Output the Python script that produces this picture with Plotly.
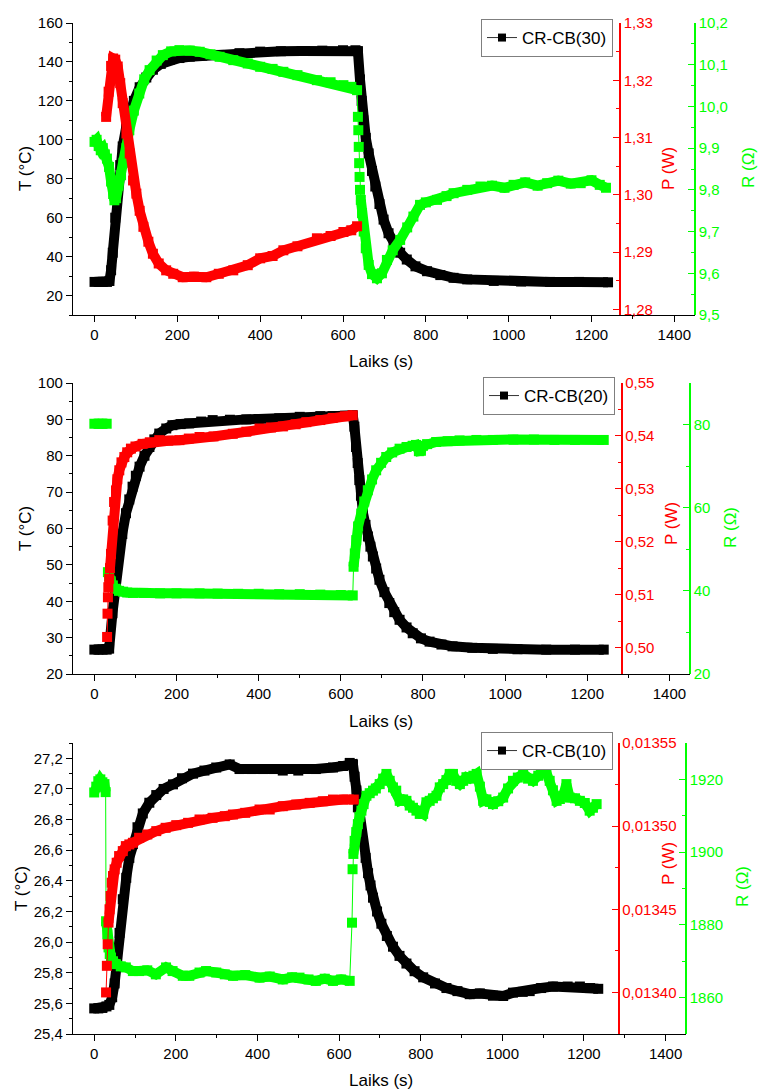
import plotly.graph_objects as go

# ---------------- Panel 1 : CR-CB(30) ----------------
t1_T = [0, 10, 20, 30, 36, 40, 44, 50, 56, 62, 68, 76, 85, 95, 109, 125, 141, 160, 181, 205,
        230, 260, 300, 350, 400, 450, 500, 550, 600, 630, 636, 641, 645, 649, 655, 662, 670, 678, 688, 698,
        710, 722, 738, 754, 775, 803, 835, 867, 900, 964, 1030, 1100, 1170, 1240]
T1 = [27, 27, 27, 27, 27.5, 33, 42, 60, 76, 87, 96.6, 106, 113.7, 120, 127, 132, 136, 139, 141, 142,
      142.7, 143.2, 143.6, 144.5, 145.3, 145.5, 145.6, 145.8, 146, 146, 145.5, 131, 120, 110, 101, 93, 84, 76, 67, 59,
      52, 47, 42, 38.5, 35, 32.5, 30.5, 29.1, 28.3, 27.5, 27.2, 27, 27, 26.8]

t1_P = [28, 34, 40, 45, 50, 56, 62, 68, 77, 85, 93, 101, 109, 118, 130, 141, 155, 173, 190, 213,
        240, 270, 300, 335, 370, 400, 430, 456, 490, 537, 570, 601, 620, 634]
P1 = [1.3136, 1.3180, 1.3225, 1.3238, 1.3236, 1.3224, 1.3195, 1.3160, 1.3107, 1.3072,
      1.3025, 1.3002, 1.2972, 1.2944, 1.2918, 1.2897, 1.2880, 1.2868, 1.2862, 1.2856,
      1.2857, 1.2856, 1.2862, 1.2868, 1.2877, 1.2889, 1.2893, 1.2903, 1.2910, 1.2924,
      1.2928, 1.2935, 1.2938, 1.2945]

t1_R = [0, 5, 10, 15, 20, 25, 30, 35, 40, 45, 48, 52, 58, 64, 70, 77, 84, 95, 108, 120,
        133, 150, 165, 185, 205, 230, 254, 280, 302, 335, 370, 400, 430, 456, 490, 537, 570, 601, 620, 634,
        636, 637, 638, 639, 640, 641, 643, 646, 650, 655, 662, 670, 682, 694, 706, 720, 738, 755, 770, 786,
        800, 827, 850, 867, 900, 932, 960, 990, 1012, 1040, 1070, 1093, 1120, 1150, 1174, 1200, 1220, 1235]
R1 = [9.915, 9.92, 9.905, 9.895, 9.90, 9.885, 9.875, 9.855, 9.82, 9.79,
      9.775, 9.78, 9.81, 9.835, 9.865, 9.90, 9.943, 9.99, 10.031, 10.065,
      10.087, 10.110, 10.123, 10.132, 10.135, 10.134, 10.131, 10.125, 10.119, 10.111,
      10.103, 10.095, 10.090, 10.083, 10.075, 10.063, 10.058, 10.051, 10.047, 10.039,
      9.975, 9.943, 9.903, 9.864, 9.831, 9.80, 9.776, 9.744, 9.70, 9.66,
      9.62, 9.598, 9.588, 9.60, 9.632, 9.655, 9.680, 9.71, 9.736, 9.764,
      9.77, 9.776, 9.785, 9.792, 9.80, 9.808, 9.81, 9.805, 9.812, 9.818,
      9.81, 9.816, 9.822, 9.815, 9.816, 9.823, 9.812, 9.805]

# ---------------- Panel 2 : CR-CB(20) ----------------
t2_T = [0, 10, 20, 30, 36, 44, 52, 60, 68, 77, 85, 93, 101, 110, 122, 134, 146, 158, 175, 190,
        210, 231, 260, 288, 330, 370, 400, 450, 500, 550, 580, 610, 629, 633, 637, 641, 645, 649, 654, 660,
        666, 672, 678, 686, 694, 706, 718, 730, 743, 760, 775, 795, 816, 845, 872, 920, 970, 1030, 1100, 1170,
        1240]
T2 = [26.7, 26.7, 26.7, 26.7, 27, 36.7, 45.9, 53, 58.5, 64.2, 68, 71.5, 74.5, 77, 80, 82.4, 84.5, 86.1, 87.5, 88.4,
      88.7, 88.9, 89.4, 89.8, 89.9, 90, 90.1, 90.3, 90.7, 90.9, 90.9, 91, 91.1, 88, 82.4, 78, 73.3, 69, 64.2, 61,
      57.8, 55, 52.3, 49, 45.9, 42.5, 39.5, 37, 34.9, 32.8, 31.2, 29.8, 28.9, 28.1, 27.6, 27.2, 26.9, 26.8, 26.7, 26.7,
      26.7]

t2_P = [31, 32, 33, 34, 36, 38, 40.5, 44.5, 48, 52.6, 56, 60.7, 66, 73, 80, 89, 100, 117.5, 135, 158,
        180, 207, 230, 256, 290, 337, 370, 402, 430, 459, 490, 516, 550, 580, 610, 629]
P2 = [0.5020, 0.5064, 0.5095, 0.5114, 0.5130, 0.5150, 0.5177, 0.5240, 0.5275, 0.5297,
      0.5318, 0.5335, 0.5350, 0.5360, 0.5369, 0.5376, 0.5380, 0.5385, 0.5388, 0.5392,
      0.5391, 0.5392, 0.5395, 0.5398, 0.5399, 0.5404, 0.5408, 0.5414, 0.5416, 0.5418,
      0.5422, 0.5426, 0.5430, 0.5434, 0.5437, 0.5439]

t2_R = [0, 10, 20, 30, 33, 36, 40, 45, 52, 60, 70, 80, 94, 120, 160, 200, 256, 300, 350, 400,
        450, 500, 550, 600, 629, 631, 634, 637.5, 642, 649.6, 657, 665.7, 676, 686, 698, 710.5, 725, 743, 760, 775,
        783, 790, 795, 800, 810, 832, 860, 889, 930, 970, 1020, 1070, 1120, 1170, 1240]
R2 = [80.2, 80.2, 80.2, 80.2, 44.5, 43.5, 42.3, 41.3, 40.5, 40.0,
      39.8, 39.6, 39.5, 39.5, 39.4, 39.4, 39.4, 39.35, 39.3, 39.3,
      39.2, 39.2, 39.1, 39.0, 38.9, 45.8, 49, 52.2, 55.5, 58.6,
      61.5, 64.2, 66.8, 69.0, 70.8, 72.2, 73.3, 74.2, 74.6, 74.9,
      75.1, 73.6, 73.7, 74.9, 75.3, 75.8, 76.0, 76.2, 76.3, 76.3,
      76.4, 76.4, 76.3, 76.3, 76.3]

# ---------------- Panel 3 : CR-CB(10) ----------------
t3_T = [0, 10, 20, 30, 37, 44, 50, 56, 62, 70, 78.5, 86, 94.7, 106, 119, 135, 152, 170, 193, 215,
        242, 270, 299, 332, 356, 385, 414, 440, 462, 500, 543, 585, 610, 626, 634, 638, 642.5, 646, 650.5, 658.6,
        665, 671, 677, 683, 693, 703.6, 717, 732, 748, 765, 785, 806, 835, 863, 890, 920, 945, 977, 1002, 1026,
        1050, 1067, 1095, 1124, 1160, 1190, 1215, 1235]
T3 = [25.567, 25.567, 25.57, 25.58, 25.59, 25.64, 25.73, 25.90, 26.06, 26.28,
      26.42, 26.55, 26.64, 26.75, 26.84, 26.91, 26.96, 27.00, 27.03, 27.07,
      27.10, 27.12, 27.14, 27.16, 27.13, 27.13, 27.13, 27.13, 27.12, 27.12,
      27.13, 27.14, 27.15, 27.17, 27.16, 27.08, 26.99, 26.88, 26.77, 26.66,
      26.55, 26.45, 26.37, 26.29, 26.20, 26.12, 26.04, 25.97, 25.91, 25.86,
      25.81, 25.77, 25.73, 25.70, 25.68, 25.66, 25.665, 25.65, 25.648, 25.67,
      25.675, 25.68, 25.70, 25.71, 25.71, 25.71, 25.70, 25.695]

t3_P = [29, 31, 33, 35, 37.5, 40, 43, 46, 50, 55, 61, 70, 77.5, 86, 94.7, 110, 130, 152, 175, 201,
        230, 258, 290, 320, 340, 370, 405, 430, 462, 495, 528, 560, 585, 610, 636]
P3 = [0.013400, 0.013416, 0.013429, 0.013442, 0.013450, 0.013458, 0.013466, 0.013470, 0.013474, 0.013478,
      0.013482, 0.013485, 0.013488, 0.013489, 0.013490, 0.013493, 0.013495, 0.013497, 0.013499, 0.0135006,
      0.013502, 0.013504, 0.013505, 0.013506, 0.013507, 0.013508, 0.013510, 0.013510, 0.013512, 0.013513,
      0.013514, 0.013515, 0.013516, 0.013516, 0.013516]

t3_R = [0, 5, 10, 15, 20, 25, 28, 29, 32, 35, 38, 41, 46, 53, 65, 77.5, 94.7, 110, 130, 151,
        176, 192, 217, 233, 258, 274, 299, 320, 340, 370, 405, 430, 462, 485, 503, 525, 543, 565, 585, 605,
        626, 631.6, 633, 635, 638, 642, 646, 650, 654.7, 660, 667, 675, 683, 690, 699.5, 708, 716, 724, 732, 740,
        748.6, 757, 765, 773, 781, 789.5, 797.6, 806, 814, 822, 830, 838.6, 846.7, 855, 863, 871, 879, 887, 896, 904,
        912, 920, 929, 937, 945, 953, 961, 969, 977, 990, 1002, 1014, 1026, 1038, 1051, 1063, 1075, 1088, 1100, 1108,
        1116, 1124, 1133, 1141, 1149, 1157, 1165, 1178, 1190, 1202, 1214, 1222, 1231]
R3 = [1916.4, 1918, 1919.5, 1920, 1919.2, 1918.7, 1916.5, 1881, 1877.4, 1873.8,
      1872, 1871, 1870, 1869.2, 1868.6, 1868.3, 1867.3, 1867.3, 1867.5, 1866.4,
      1868.3, 1867.3, 1866, 1866, 1866.9, 1867.3, 1866.9, 1866.4, 1866, 1866.2,
      1865.5, 1865.8, 1865, 1865.6, 1865.5, 1865, 1864.6, 1865.2, 1864.6, 1865,
      1864.6, 1880.6, 1895.3, 1899.5, 1903.1, 1905.5, 1907.7, 1909.7, 1911.4, 1913.2,
      1915.5, 1916.2, 1916.9, 1917.5, 1918.7, 1920.2, 1921.5, 1919.6, 1917.8, 1916.9,
      1914.1, 1914.5, 1914.1, 1912.8, 1912.2, 1911.4, 1910.5, 1910.5, 1913.7, 1914.1,
      1914.8, 1915.5, 1917.8, 1918.7, 1919.8, 1921.5, 1921.5, 1919.6, 1918.7, 1919.6,
      1920.6, 1920.2, 1921, 1921.5, 1918, 1914.1, 1914.5, 1913.8, 1913.2, 1914,
      1915, 1917.5, 1919.6, 1920.5, 1921.5, 1920.2, 1919.6, 1921, 1922.9, 1921.8,
      1919.6, 1917, 1914.1, 1914.6, 1915.5, 1918.7, 1915, 1914.8, 1914.1, 1913.5,
      1911.4, 1912.2, 1913.2]

legend_names = ["CR-CB(30)", "CR-CB(20)", "CR-CB(10)"]
x_title = "Laiks (s)"
T_title = "T (°C)"
P_title = "P (W)"
R_title = "R (Ω)"

# ---------------- styling / layout ----------------
W, H = 759, 1089
FONT = "Liberation Sans, Arial, sans-serif"
BLACK, RED, GREEN = "#000000", "#ff0000", "#00ff00"
LW, MS = 10, 10


def fx(p):
    return p / W


def fy(p):
    return 1 - p / H


panels = [
    dict(tT=t1_T, T=T1, tP=t1_P, P=P1, tR=t1_R, R=R1,
         winP=[], winR=[(634, 643)], hideR=[],
         top=23, bot=315, left=73, right=695, red=620,
         Tr=[10, 160], Td=20, Tm=10, Tf="",
         Pr=[1.279, 1.33], Pd=0.01, Pm=0.005, Pf=".2f",
         Rr=[9.5, 10.2], Rd=0.1, Rm=0.05, Rf=".1f",
         Tt=(25, 169), Xt=(381, 361), Pt=(668, 169), Rt=(748, 168), leg=(613, 19)),
    dict(tT=t2_T, T=T2, tP=t2_P, P=P2, tR=t2_R, R=R2,
         winP=[(31, 38)], winR=[(30, 33), (629, 631)], hideR=[(30, 33)],
         top=383, bot=674, left=73, right=690, red=621.5,
         Tr=[20, 100], Td=10, Tm=5, Tf="",
         Pr=[0.495, 0.55], Pd=0.01, Pm=0.005, Pf=".2f",
         Rr=[20, 90], Rd=20, Rm=10, Rf="",
         Tt=(25, 529), Xt=(381, 721), Pt=(671, 524), Rt=(730, 528), leg=(615, 377)),
    dict(tT=t3_T, T=T3, tP=t3_P, P=P3, tR=t3_R, R=R3,
         winP=[(29, 35)], winR=[(28, 29), (626, 636)], hideR=[],
         top=743, bot=1034, left=73, right=686, red=618.5,
         Tr=[25.4, 27.3], Td=0.2, Tm=0.1, Tf=".1f",
         Pr=[0.013375, 0.01355], Pd=0.00005, Pm=0.000025, Pf=".5f",
         Rr=[1850, 1930], Rd=20, Rm=10, Rf="",
         Tt=(21, 889), Xt=(381, 1080), Pt=(668, 864), Rt=(742, 887), leg=(613, 732)),
]

fig = go.Figure()


def split(t, y, windows):
    xs, ys = [], []
    for i in range(len(t)):
        if i > 0 and any(a <= t[i - 1] and t[i] <= b for a, b in windows):
            xs.append(None)
            ys.append(None)
        xs.append(t[i])
        ys.append(y[i])
    return xs, ys


def add_series(t, y, xa, ya, color, windows, hidden):
    assert len(t) == len(y)
    # thin connecting line (line+symbol plot of the original)
    tx, ty = split(t, y, hidden)
    fig.add_trace(go.Scatter(x=tx, y=ty, xaxis=xa, yaxis=ya, mode="lines",
                             line=dict(color=color, width=1), showlegend=False, hoverinfo="skip"))
    xs, ys = split(t, y, windows)
    fig.add_trace(go.Scatter(x=xs, y=ys, xaxis=xa, yaxis=ya, mode="lines+markers",
                             line=dict(color=color, width=LW),
                             marker=dict(symbol="square", size=MS, color=color),
                             showlegend=False))


layout = {}
annotations = []

for k, p in enumerate(panels):
    xi = "" if k == 0 else str(k + 1)
    yT, yR, yP = 3 * k + 1, 3 * k + 2, 3 * k + 3
    yTn = "" if yT == 1 else str(yT)
    xa = "x" + xi
    add_series(p["tT"], p["T"], xa, "y" + yTn, BLACK, [], [])
    add_series(p["tR"], p["R"], xa, "y" + str(yR), GREEN, p["winR"], p["hideR"])
    add_series(p["tP"], p["P"], xa, "y" + str(yP), RED, p["winP"], [])

    legname = "legend" if k == 0 else "legend" + str(k + 1)
    fig.add_trace(go.Scatter(x=[None], y=[None], xaxis=xa, yaxis="y" + yTn,
                             mode="lines+markers", name=legend_names[k],
                             line=dict(color="#333333", width=1),
                             marker=dict(symbol="square", size=8, color=BLACK),
                             legend=legname, showlegend=True))
    layout[legname] = dict(x=fx(p["leg"][0]), y=fy(p["leg"][1]), xanchor="right", yanchor="top",
                           bgcolor="white", bordercolor="#7f7f7f", borderwidth=1,
                           font=dict(family=FONT, size=17, color=BLACK))

    ydom = [fy(p["bot"]), fy(p["top"])]
    layout["xaxis" + xi] = dict(
        domain=[fx(p["left"]), fx(p["right"])], range=[-52, 1450], anchor="y" + yTn,
        showline=True, linecolor=BLACK, linewidth=1.3, showgrid=False, zeroline=False,
        ticks="outside", ticklen=6, tickwidth=1.3, tickcolor=BLACK, dtick=200, tick0=0,
        minor=dict(dtick=100, tick0=0, ticks="outside", ticklen=3, tickwidth=1.3, tickcolor=BLACK),
        tickfont=dict(family=FONT, size=15, color=BLACK), automargin=False)
    layout["yaxis" + yTn] = dict(
        domain=ydom, range=p["Tr"], anchor=xa, side="left",
        showline=True, linecolor=BLACK, linewidth=1.3, showgrid=False, zeroline=False,
        ticks="outside", ticklen=6, tickwidth=1.3, tickcolor=BLACK, dtick=p["Td"], tick0=0,
        tickformat=p["Tf"],
        minor=dict(dtick=p["Tm"], tick0=0, ticks="outside", ticklen=3, tickwidth=1.3, tickcolor=BLACK),
        tickfont=dict(family=FONT, size=15, color=BLACK), automargin=False)
    layout["yaxis" + str(yR)] = dict(
        range=p["Rr"], overlaying="y" + yTn, anchor="free", position=fx(p["right"]), side="right",
        showline=True, linecolor=GREEN, linewidth=1.5, showgrid=False, zeroline=False,
        ticks="inside", ticklen=6, tickwidth=1.3, tickcolor=GREEN, dtick=p["Rd"], tick0=0,
        tickformat=p["Rf"],
        minor=dict(dtick=p["Rm"], tick0=0, ticks="inside", ticklen=3, tickwidth=1.3, tickcolor=GREEN),
        tickfont=dict(family=FONT, size=15, color=GREEN), automargin=False)
    layout["yaxis" + str(yP)] = dict(
        range=p["Pr"], overlaying="y" + yTn, anchor="free", position=fx(p["red"]), side="right",
        showline=True, linecolor=RED, linewidth=1.5, showgrid=False, zeroline=False,
        ticks="inside", ticklen=6, tickwidth=1.3, tickcolor=RED, dtick=p["Pd"], tick0=0,
        tickformat=p["Pf"],
        minor=dict(dtick=p["Pm"], tick0=0, ticks="inside", ticklen=3, tickwidth=1.3, tickcolor=RED),
        tickfont=dict(family=FONT, size=15, color=RED), automargin=False)

    for (txt, pos, col, ang) in [(T_title, p["Tt"], BLACK, -90), (x_title, p["Xt"], BLACK, 0),
                                 (P_title, p["Pt"], RED, -90), (R_title, p["Rt"], GREEN, -90)]:
        annotations.append(dict(text=txt, x=fx(pos[0]), y=fy(pos[1]), xref="paper", yref="paper",
                                xanchor="center", yanchor="middle", showarrow=False, textangle=ang,
                                font=dict(family=FONT, size=17, color=col)))

fig.update_layout(
    width=W, height=H, margin=dict(l=0, r=0, t=0, b=0),
    paper_bgcolor="white", plot_bgcolor="white",
    separators=", ", font=dict(family=FONT, size=15, color=BLACK),
    annotations=annotations, hovermode=False,
    **layout)

fig.write_html("out.html")
